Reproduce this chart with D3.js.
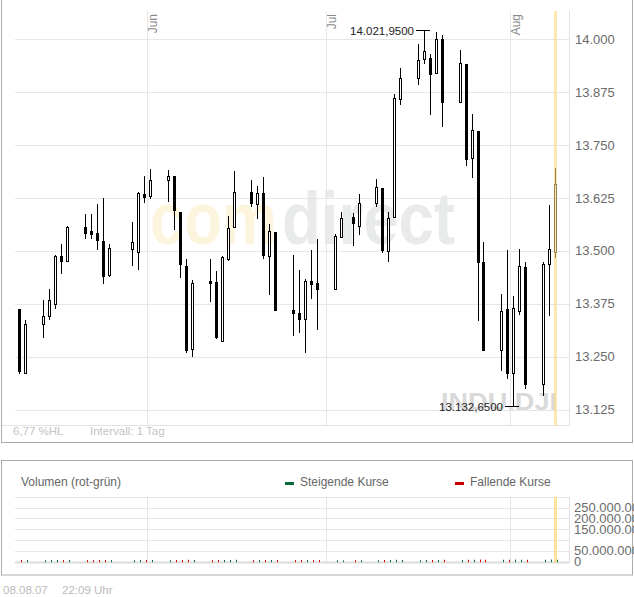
<!DOCTYPE html>
<html><head><meta charset="utf-8">
<script src="https://cdn.jsdelivr.net/npm/d3@7"></script>
<style>
body{margin:0;background:#fff;}
svg{display:block;font-family:"Liberation Sans",Arial,sans-serif;}
</style>
</head><body>
<svg id="c" width="634" height="597"></svg>
<script>
// ---------- data ----------
const dates = ["2007-05-10","2007-05-11","2007-05-14","2007-05-15","2007-05-16","2007-05-17","2007-05-18",
"2007-05-21","2007-05-22","2007-05-23","2007-05-24","2007-05-25","2007-05-29","2007-05-30","2007-05-31",
"2007-06-01","2007-06-04","2007-06-05","2007-06-06","2007-06-07","2007-06-08","2007-06-11","2007-06-12",
"2007-06-13","2007-06-14","2007-06-15","2007-06-18","2007-06-19","2007-06-20","2007-06-21","2007-06-22",
"2007-06-25","2007-06-26","2007-06-27","2007-06-28","2007-06-29","2007-07-02","2007-07-03","2007-07-05",
"2007-07-06","2007-07-09","2007-07-10","2007-07-11","2007-07-12","2007-07-13","2007-07-16","2007-07-17",
"2007-07-18","2007-07-19","2007-07-20","2007-07-23","2007-07-24","2007-07-25","2007-07-26","2007-07-27",
"2007-07-30","2007-07-31","2007-08-01","2007-08-02","2007-08-03","2007-08-06","2007-08-07","2007-08-08"];
const opens  = [13362,13212,13328,13346,13375,13489,13476,13557,13546,13543,13524,13442,13505,13498,13635,
13629,13668,13676,13593,13465,13269,13428,13426,13287,13482,13557,13639,13612,13637,13489,13545,
13360,13354,13338,13430,13425,13410,13533,13579,13560,13613,13649,13499,13580,13860,13908,13953,
13955,13920,14000,13851,13941,13719,13784,13474,13266,13362,13212,13359,13462,13185,13469,13498];
const highs  = [13362,13336,13385,13409,13491,13517,13559,13588,13588,13611,13625,13517,13568,13639,13676,
13694,13692,13676,13593,13481,13432,13480,13452,13487,13583,13689,13668,13654,13675,13564,13545,
13491,13454,13434,13501,13527,13539,13593,13590,13635,13671,13649,13592,13870,13932,13989,14021.95,
13965,14017,14011,13975,13941,13824,13784,13521,13399,13501,13393,13505,13473,13473,13609,13696];
const lows   = [13212,13212,13297,13340,13365,13448,13476,13530,13530,13505,13425,13440,13467,13458,13615,
13624,13619,13552,13438,13261,13251,13381,13295,13287,13479,13557,13607,13578,13484,13399,13360,
13301,13308,13261,13389,13316,13410,13533,13513,13539,13607,13497,13476,13580,13847,13894,13943,
13823,13920,13796,13851,13702,13674,13336,13266,13218,13200,13132.65,13351,13177,13159,13348,13486];
const closes = [13216,13328,13347,13385,13489,13476,13557,13543,13540,13525,13440,13507,13521,13637,13627,
13668,13676,13597,13468,13267,13425,13424,13296,13485,13554,13639,13613,13637,13491,13546,13360,
13354,13340,13430,13422,13410,13536,13578,13566,13613,13650,13501,13578,13861,13908,13951,13972,
13918,14000,13851,13943,13717,13786,13474,13266,13359,13212,13364,13464,13185,13470,13505,13659];
const volumes = [8e6,8e6,7e6,8e6,8e6,7e6,8e6,7e6,7e6,8e6,8e6,7e6,7e6,8e6,8e6,
8e6,7e6,8e6,8e6,9e6,8e6,7e6,8e6,8e6,8e6,9e6,7e6,8e6,8e6,8e6,8e6,
7e6,8e6,8e6,7e6,8e6,7e6,6e6,7e6,7e6,7e6,8e6,8e6,9e6,8e6,7e6,8e6,
8e6,8e6,9e6,8e6,9e6,9e6,10e6,9e6,9e6,9e6,10e6,9e6,9e6,9e6,10e6,9e6];
const priceTicks = [13125,13250,13375,13500,13625,13750,13875,14000];
const volumeGrid = [0,50e6,100e6,150e6,200e6,250e6,300e6];
const volumeLabelTicks = [0,50e6,150e6,200e6,250e6];
const monthStarts = ["2007-06-01","2007-07-01","2007-08-01"];
const monthNames = ["Jun","Jul","Aug"];
const symbol = "INDU.DJI";
const intervalText = "Intervall: 1 Tag";
const volumeTitle = "Volumen (rot-grün)";
const legendNames = ["Steigende Kurse","Fallende Kurse"];
const stampDate = "08.08.07", stampTime = "22:09 Uhr";

// ---------- setup ----------
const de = d3.formatLocale({decimal:",", thousands:".", grouping:[3], currency:["","€"]});
const fmtAxis = de.format(",.0f"), fmtExt = de.format(",.4f"), fmtPct = de.format(".2f");
const parse = d3.timeParse("%Y-%m-%d");
const data = dates.map((d,i)=>({date:d3.timeHour.offset(parse(d),12),o:opens[i],h:highs[i],l:lows[i],c:closes[i],v:volumes[i]}));

const svg = d3.select("#c");
const PL=15, PR=569, PT=11, PB=425.5;
const x = d3.scaleTime().domain([new Date(2007,4,9,12), new Date(2007,7,10,12)]).range([13.4,566.8]);
const y = d3.scaleLinear().domain([13125,14000]).range([409.6,39.3]);
const vy = d3.scaleLinear().domain([0,300e6]).range([561.7,496.7]);
const cx = d => Math.round(x(d));
const gridC="#e6e6e6", frameC="#ababab";

// frames
svg.append("rect").attr("x",1.5).attr("y",-2).attr("width",631).attr("height",444.5).attr("fill","none").attr("stroke",frameC);
svg.append("rect").attr("x",1.5).attr("y",460.5).attr("width",631).attr("height",114.5).attr("fill","none").attr("stroke",frameC);

// watermark
svg.append("text").attr("x",150).attr("y",244).attr("font-size",75).attr("font-weight","bold")
  .attr("fill","#fdf4de").attr("textLength",127).attr("lengthAdjust","spacingAndGlyphs").text("com");
svg.append("text").attr("x",282).attr("y",244).attr("font-size",75).attr("font-weight","bold")
  .attr("fill","#e9eaea").attr("textLength",173).attr("lengthAdjust","spacingAndGlyphs").text("direct");
svg.append("text").attr("x",441).attr("y",409.5).attr("font-size",23).attr("font-weight","bold")
  .attr("fill","#d9d9d9").attr("textLength",116).attr("lengthAdjust","spacingAndGlyphs").text(symbol);

// grid
svg.append("g").selectAll("line").data(priceTicks).join("line")
  .attr("x1",PL).attr("x2",PR).attr("y1",d=>Math.round(y(d))+0.5).attr("y2",d=>Math.round(y(d))+0.5)
  .attr("stroke",gridC);
const mDates = monthStarts.map(parse);
svg.append("g").selectAll("line").data(mDates).join("line")
  .attr("x1",d=>Math.round(x(d))+0.5).attr("x2",d=>Math.round(x(d))+0.5).attr("y1",PT).attr("y2",PB)
  .attr("stroke",gridC);
svg.append("line").attr("x1",PR+0.5).attr("x2",PR+0.5).attr("y1",PT).attr("y2",PB).attr("stroke","#e2e2e2");
svg.append("line").attr("x1",2).attr("x2",PR+0.5).attr("y1",PB).attr("y2",PB).attr("stroke","#e2e2e2");

// month labels
svg.append("g").selectAll("text").data(mDates).join("text")
  .attr("transform",d=>`translate(${Math.round(x(d))+10},14) rotate(-90)`)
  .attr("text-anchor","end").attr("font-size",12).attr("fill","#8a8a8a")
  .text((d,i)=>monthNames[i]);

// price axis labels
svg.append("g").selectAll("text").data(priceTicks).join("text")
  .attr("x",575).attr("y",d=>y(d)).attr("dy","0.35em").attr("font-size",13).attr("fill","#6b6b6b")
  .text(d=>fmtAxis(d));

// candles
const g = svg.append("g");
data.forEach(d=>{
  const X = cx(d.date);
  g.append("line").attr("x1",X+0.5).attr("x2",X+0.5).attr("y1",Math.round(y(d.h))).attr("y2",Math.round(y(d.l))+1)
    .attr("stroke","#000").attr("stroke-width",1);
  const top = Math.round(y(Math.max(d.o,d.c))), bot = Math.round(y(Math.min(d.o,d.c)));
  if (d.c >= d.o) {
    g.append("rect").attr("x",X-0.5).attr("y",top+0.5).attr("width",2).attr("height",Math.max(1,bot-top))
      .attr("fill","#fff").attr("stroke","#000").attr("stroke-width",1);
  } else {
    g.append("rect").attr("x",X-1).attr("y",top).attr("width",3).attr("height",Math.max(2,bot-top+1))
      .attr("fill","#000");
  }
});

// extremes annotations
const hiD = data.reduce((a,b)=>b.h>a.h?b:a), loD = data.reduce((a,b)=>b.l<a.l?b:a);
[[hiD,hiD.h],[loD,loD.l]].forEach(([d,v])=>{
  const X = cx(d.date), Y = Math.round(y(v))+0.5;
  svg.append("line").attr("x1",X-8).attr("x2",X+6).attr("y1",Y).attr("y2",Y).attr("stroke","#000");
  svg.append("text").attr("x",X-10).attr("y",Y).attr("dy","0.35em").attr("text-anchor","end")
    .attr("font-size",11.5).attr("fill","#222").text(fmtExt(v));
});

// highlight last day
const last = data[data.length-1];
svg.append("rect").attr("x",cx(last.date)-1).attr("y",PT).attr("width",3).attr("height",PB-PT)
  .attr("fill","#fdd97a").attr("opacity",0.6);

// bottom info
const hl = (hiD.h-loD.l)/loD.l*100;
svg.append("text").attr("x",13).attr("y",431).attr("dy","0.35em").attr("font-size",11.5).attr("fill","#c4c4c4").text(fmtPct(hl)+" %HL");
svg.append("text").attr("x",90).attr("y",431).attr("dy","0.35em").attr("font-size",11.5).attr("fill","#c4c4c4").text(intervalText);

// ---------- volume panel ----------
svg.append("text").attr("x",21).attr("y",482).attr("dy","0.35em").attr("font-size",12).attr("fill","#666").text(volumeTitle);
const legC = ["#0a6b3a","#cc0000"], legX=[285,455];
legendNames.forEach((n,i)=>{
  svg.append("rect").attr("x",legX[i]).attr("y",482).attr("width",9).attr("height",3).attr("fill",legC[i]);
  svg.append("text").attr("x",legX[i]+15).attr("y",482).attr("dy","0.35em").attr("font-size",12).attr("fill","#666").text(n);
});
svg.append("g").selectAll("line").data(volumeGrid).join("line")
  .attr("x1",PL).attr("x2",PR).attr("y1",d=>Math.round(vy(d))+0.5).attr("y2",d=>Math.round(vy(d))+0.5)
  .attr("stroke",d=>d===0?"#dcdcdc":gridC).attr("stroke-width",d=>d===0?2:1);
svg.append("g").selectAll("line").data(mDates).join("line")
  .attr("x1",d=>Math.round(x(d))+0.5).attr("x2",d=>Math.round(x(d))+0.5).attr("y1",vy(300e6)).attr("y2",vy(0))
  .attr("stroke",gridC);
svg.append("line").attr("x1",PR+0.5).attr("x2",PR+0.5).attr("y1",vy(300e6)).attr("y2",vy(0)+1).attr("stroke","#e2e2e2");
svg.append("rect").attr("x",cx(last.date)-1).attr("y",vy(300e6)).attr("width",3).attr("height",vy(0)-vy(300e6)+1)
  .attr("fill","#fdd97a").attr("opacity",0.75);
svg.append("g").selectAll("rect").data(data).join("rect")
  .attr("x",d=>cx(d.date)+2).attr("width",1).attr("y",d=>vy(d.v)).attr("height",d=>vy(0)-vy(d.v)+0.5)
  .attr("fill",d=>d.c>=d.o?legC[0]:legC[1]);
svg.append("g").selectAll("text").data(volumeLabelTicks).join("text")
  .attr("x",574).attr("y",d=>vy(d)).attr("dy","0.35em").attr("font-size",13).attr("fill","#6b6b6b")
  .text(d=>fmtAxis(d));

// footer
svg.append("text").attr("x",3).attr("y",590).attr("dy","0.35em").attr("font-size",11.5).attr("fill","#bbb").text(stampDate);
svg.append("text").attr("x",62).attr("y",590).attr("dy","0.35em").attr("font-size",11.5).attr("fill","#bbb").text(stampTime);
</script>
</body></html>
